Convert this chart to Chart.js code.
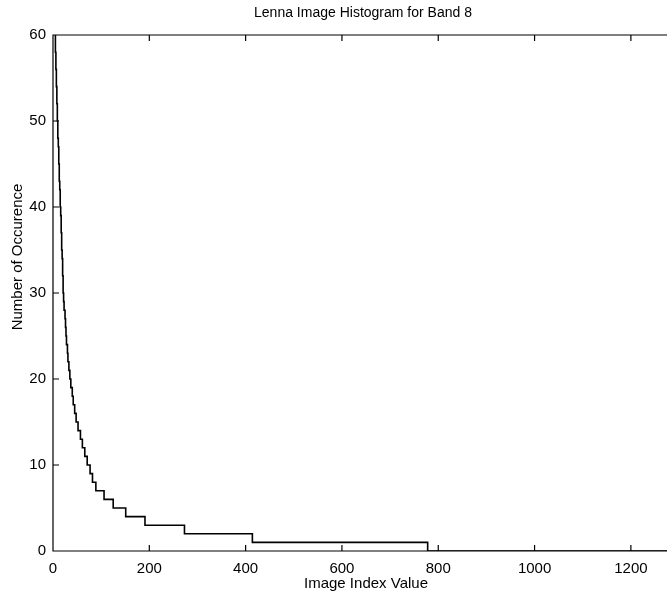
<!DOCTYPE html>
<html>
<head>
<meta charset="utf-8">
<script src="https://cdn.jsdelivr.net/npm/chart.js@4/dist/chart.umd.min.js"></script>
<style>
  body{margin:0;background:#fff;}
  #wrap{width:667px;height:598px;position:relative;}
</style>
</head>
<body>
<div id="wrap"><canvas id="myChart"></canvas></div>
<script>
// histogram of sorted occurrence counts: index where each count level starts
var levelStart=[4,5,5,6,6,7,7,8,8,9,9,10,10,11,12,12,13,13,14,15,15,16,17,17,18,18,19,20,20,21,21,22,23,25,26,27,28,30,31,33,35,37,40,42,45,48,52,57,61,66,71,77,82,89,106,125,151,191,273,414,778,1275];
var levelCount=[60,59,58,57,56,55,54,53,52,51,50,49,48,47,46,45,44,43,42,41,40,39,38,37,36,35,34,33,32,31,30,29,28,27,26,25,24,23,22,21,20,19,18,17,16,15,14,13,12,11,10,9,8,7,6,5,4,3,2,1,0,0];
var xTicks=[0,200,400,600,800,1000,1200];
var yTicks=[0,10,20,30,40,50,60];

var titleText='Lenna Image Histogram for Band 8';
var xTitle='Image Index Value';
var yTitle='Number of Occurence';

var pts=[];
for(let i=0;i<levelStart.length;i++){
    pts.push({x:levelStart[i],y:levelCount[i]});
}

var fnt='"Liberation Sans", Arial, Helvetica, sans-serif';

// box (right side is cut off in the scan), inward ticks and titles
var boxPlugin={
    id:'boxPlugin',
    afterDraw(chart){
        const ctx=chart.ctx;
        const a=chart.chartArea;
        const xs=chart.scales.x, ys=chart.scales.y;
        ctx.save();
        ctx.strokeStyle='#000';
        ctx.lineWidth=1.2;
        ctx.beginPath();
        ctx.moveTo(a.right+2,a.top);
        ctx.lineTo(a.left,a.top);
        ctx.lineTo(a.left,a.bottom);
        ctx.lineTo(a.right+2,a.bottom);
        xTicks.forEach(function(v){
            let px=xs.getPixelForValue(v);
            ctx.moveTo(px,a.bottom);ctx.lineTo(px,a.bottom-6);
            ctx.moveTo(px,a.top);ctx.lineTo(px,a.top+6);
        });
        yTicks.forEach(function(v){
            let py=ys.getPixelForValue(v);
            ctx.moveTo(a.left,py);ctx.lineTo(a.left+6,py);
        });
        ctx.stroke();
        ctx.fillStyle='#000';
        ctx.textAlign='center';
        ctx.textBaseline='middle';
        ctx.font='14px '+fnt;
        ctx.fillText(titleText,363,13);
        ctx.font='15px '+fnt;
        ctx.fillText(xTitle,366,584);
        ctx.translate(18,257);
        ctx.rotate(-Math.PI/2);
        ctx.fillText(yTitle,0,0);
        ctx.restore();
    }
};

const ctx=document.getElementById('myChart').getContext('2d');
const myChart=new Chart(ctx,{
    type:'line',
    data:{
        datasets:[{
            data:pts,
            stepped:true,
            borderColor:'#000',
            borderWidth:1.6,
            pointRadius:0,
            fill:false
        }]
    },
    options:{
        responsive:true,
        maintainAspectRatio:false,
        animation:false,
        layout:{padding:{top:35,right:0,left:0,bottom:0}},
        plugins:{legend:{display:false},tooltip:{enabled:false}},
        scales:{
            x:{
                type:'linear',
                min:0,max:1275,
                afterFit:function(s){s.height=47;},
                afterBuildTicks:function(s){s.ticks=xTicks.map(v=>({value:v}));},
                grid:{display:false,drawTicks:false},
                border:{display:false},
                ticks:{color:'#000',font:{family:fnt,size:15},padding:9,maxRotation:0,
                    callback:function(v){return String(v);}}
            },
            y:{
                min:0,max:60,
                afterFit:function(s){s.width=53;},
                afterBuildTicks:function(s){s.ticks=yTicks.map(v=>({value:v}));},
                grid:{display:false,drawTicks:false},
                border:{display:false},
                ticks:{color:'#000',font:{family:fnt,size:15},padding:7,
                    callback:function(v){return String(v);}}
            }
        }
    },
    plugins:[boxPlugin]
});
</script>
</body>
</html>
